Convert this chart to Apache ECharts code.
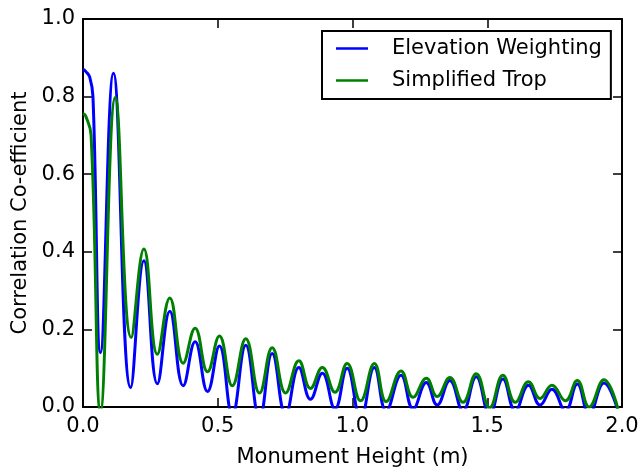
<!DOCTYPE html>
<html>
<head>
<meta charset="utf-8">
<script src="https://cdn.jsdelivr.net/npm/echarts@6/dist/echarts.min.js"></script>
<style>
html,body{margin:0;padding:0;background:#fff;}
#chart{width:640px;height:469px;}
</style>
</head>
<body>
<div id="chart"></div>
<script>
const seriesNames = ['Elevation Weighting', 'Simplified Trop'];
const xTicks = [0.0, 0.5, 1.0, 1.5, 2.0];
const yTicks = [0.0, 0.2, 0.4, 0.6, 0.8, 1.0];

const blueX = [0.0, 0.010, 0.025, 0.037, 0.065, 0.113, 0.177, 0.226, 0.276, 0.322, 0.372, 0.416, 0.462, 0.506, 0.554, 0.604, 0.655, 0.702, 0.752, 0.801, 0.844, 0.888, 0.935, 0.980, 1.030, 1.081, 1.125, 1.180, 1.225, 1.274, 1.314, 1.361, 1.410, 1.459, 1.509, 1.558, 1.604, 1.653, 1.696, 1.740, 1.790, 1.834, 1.878, 1.933, 1.985];
const blueY = [0.870, 0.865, 0.850, 0.800, 0.140, 0.860, 0.050, 0.377, 0.060, 0.247, 0.055, 0.168, 0.040, 0.157, -0.020, 0.159, -0.030, 0.138, -0.020, 0.102, 0.020, 0.087, -0.005, 0.100, -0.030, 0.102, -0.010, 0.082, -0.005, 0.063, 0.005, 0.068, -0.010, 0.078, -0.020, 0.072, -0.010, 0.056, 0.005, 0.046, -0.010, 0.059, -0.020, 0.062, -0.010];

const greenX = [0.0, 0.010, 0.030, 0.065, 0.120, 0.179, 0.226, 0.276, 0.322, 0.372, 0.416, 0.462, 0.506, 0.554, 0.604, 0.655, 0.702, 0.752, 0.801, 0.844, 0.888, 0.935, 0.980, 1.030, 1.081, 1.125, 1.180, 1.225, 1.274, 1.314, 1.361, 1.410, 1.459, 1.509, 1.558, 1.604, 1.653, 1.696, 1.740, 1.790, 1.834, 1.878, 1.933, 1.985];
const greenY = [0.756, 0.750, 0.700, -0.010, 0.798, 0.179, 0.407, 0.136, 0.281, 0.113, 0.203, 0.091, 0.183, 0.055, 0.176, 0.036, 0.153, 0.036, 0.119, 0.048, 0.102, 0.038, 0.112, 0.016, 0.112, 0.014, 0.093, 0.025, 0.074, 0.027, 0.076, 0.012, 0.086, -0.002, 0.082, 0.012, 0.065, 0.022, 0.056, 0.016, 0.068, 0.000, 0.070, -0.005];

const FONT = 'DejaVu Sans';
const FS = 21;
const pairs = (xs, ys) => xs.map((x, i) => [x, ys[i]]);

const chart = echarts.init(document.getElementById('chart'), null, {renderer: 'canvas'});

function xAxisDef(pos, showLabels) {
  return {
    type: 'value', position: pos, min: xTicks[0], max: xTicks[xTicks.length - 1], interval: 0.5,
    axisLine: {show: true, onZero: false, lineStyle: {color: '#000', width: 2}},
    axisTick: {show: true, inside: true, length: 9, lineStyle: {color: '#000', width: 1.5}},
    axisLabel: {show: showLabels, margin: 9, fontFamily: FONT, fontSize: FS, color: '#000', formatter: v => v.toFixed(1)},
    splitLine: {show: false},
    name: showLabels ? 'Monument Height (m)' : '',
    nameLocation: 'middle', nameGap: 40,
    nameTextStyle: {fontFamily: FONT, fontSize: FS, color: '#000'}
  };
}
function yAxisDef(pos, showLabels) {
  return {
    type: 'value', position: pos, min: yTicks[0], max: yTicks[yTicks.length - 1], interval: 0.2,
    axisLine: {show: true, onZero: false, lineStyle: {color: '#000', width: 2}},
    axisTick: {show: true, inside: true, length: 9, lineStyle: {color: '#000', width: 1.5}},
    axisLabel: {show: showLabels, margin: 8, fontFamily: FONT, fontSize: FS, color: '#000', formatter: v => v.toFixed(1)},
    splitLine: {show: false},
    name: showLabels ? 'Correlation Co-efficient' : '',
    nameLocation: 'middle', nameGap: 47, nameRotate: 90,
    nameTextStyle: {fontFamily: FONT, fontSize: FS, color: '#000'}
  };
}

chart.setOption({
  animation: false,
  backgroundColor: '#fff',
  grid: {left: 83, right: 18, top: 19, bottom: 62, containLabel: false, outerBoundsMode: 'none'},
  xAxis: [xAxisDef('bottom', true), xAxisDef('top', false)],
  yAxis: [yAxisDef('left', true), yAxisDef('right', false)],
  legend: {
    orient: 'vertical', left: 322, top: 31, align: 'left',
    data: seriesNames,
    icon: 'rect', itemWidth: 32, itemHeight: 2.5, itemGap: 11,
    padding: [7, 9, 8, 14],
    borderColor: '#000', borderWidth: 2, backgroundColor: '#fff',
    textStyle: {fontFamily: FONT, fontSize: FS, color: '#000', lineHeight: 21, padding: [0, 0, 0, 19]}
  },
  series: [
    {name: seriesNames[0], type: 'line', xAxisIndex: 0, yAxisIndex: 0, data: pairs(blueX, blueY),
     smooth: 0.45, showSymbol: false, symbol: 'none', clip: true,
     lineStyle: {color: '#0000ff', width: 3}, itemStyle: {color: '#0000ff'}},
    {name: seriesNames[1], type: 'line', xAxisIndex: 0, yAxisIndex: 0, data: pairs(greenX, greenY),
     smooth: 0.45, showSymbol: false, symbol: 'none', clip: true,
     lineStyle: {color: '#008000', width: 3}, itemStyle: {color: '#008000'}}
  ]
});
</script>
</body>
</html>
